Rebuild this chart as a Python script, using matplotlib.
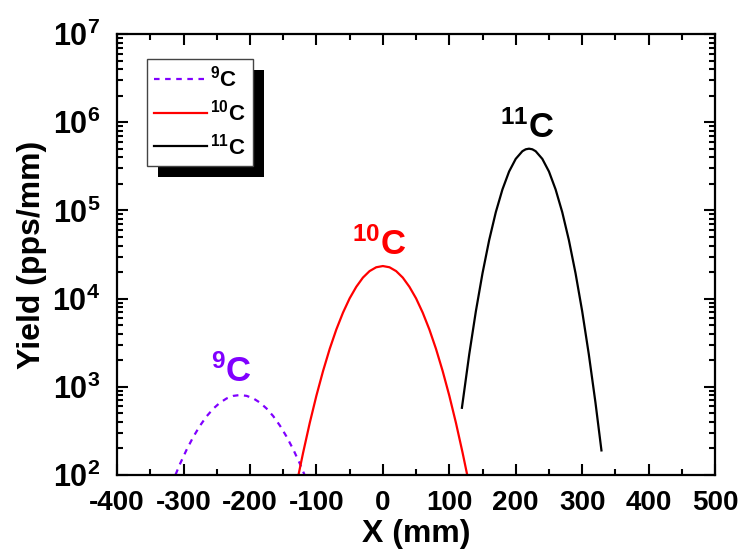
import numpy as np
import matplotlib
matplotlib.use("Agg")
import matplotlib.pyplot as plt
from matplotlib.patches import Rectangle
from matplotlib.ticker import MultipleLocator, LogLocator, NullFormatter

plt.rcParams['font.family'] = ['Liberation Sans', 'DejaVu Sans']
plt.rcParams['font.weight'] = 'bold'
plt.rcParams['axes.unicode_minus'] = False
plt.rcParams['mathtext.fontset'] = 'custom'
plt.rcParams['mathtext.rm'] = 'Liberation Sans:bold'
plt.rcParams['mathtext.it'] = 'Liberation Sans:bold'
plt.rcParams['mathtext.bf'] = 'Liberation Sans:bold'
plt.rcParams['mathtext.default'] = 'rm'

# values (X in mm, yield in pps/mm)
x_c9 = [-312, -305, -295, -285, -275, -265, -255, -245, -235, -225, -215,
        -205, -195, -185, -175, -165, -155, -145, -135, -125, -118]
y_c9 = [101, 135, 196, 273, 364, 465, 567, 662, 739, 789, 807,
        789, 739, 662, 567, 465, 364, 273, 196, 135, 101]

x_c10 = [-127, -120, -110, -100, -90, -80, -70, -60, -50, -40, -30, -20, -10, 0,
         10, 20, 30, 40, 50, 60, 70, 80, 90, 100, 110, 120, 127]
y_c10 = [100, 179, 390, 794, 1510, 2690, 4470, 6930, 10060, 13600, 17300, 20500, 22660, 23400,
         22660, 20500, 17300, 13600, 10060, 6930, 4470, 2690, 1510, 794, 390, 179, 100]

x_c11 = [119, 130, 140, 150, 160, 170, 180, 190, 200, 210, 215, 220,
         225, 230, 240, 250, 260, 270, 280, 290, 300, 310, 320, 329]
y_c11 = [578, 2330, 7190, 19400, 46000, 95500, 173000, 276000, 384000, 469000, 493000, 501000,
         493000, 469000, 384000, 276000, 173000, 95500, 46000, 19400, 7190, 2330, 661, 190]

labels = [r'$^{9}$C', r'$^{10}$C', r'$^{11}$C']
colors = ['#8000ff', '#ff0000', '#000000']

# where the isotope names sit above each peak
tag_x = [-228, -6, 217]
tag_y = [1130, 31200, 662000]

fig = plt.figure(figsize=(7.41, 5.54), dpi=100)
ax = fig.add_axes([0.158, 0.1426, 0.807, 0.796])

ax.plot(x_c9, y_c9, color=colors[0], lw=1.6, ls=(0, (2.5, 2.5)), label=labels[0])
ax.plot(x_c10, y_c10, color=colors[1], lw=1.6, label=labels[1])
ax.plot(x_c11, y_c11, color=colors[2], lw=1.6, label=labels[2])

ax.set_yscale('log')
ax.set_xlim(-400, 500)
ax.set_ylim(1e2, 1e7)

ax.xaxis.set_major_locator(MultipleLocator(100))
ax.xaxis.set_minor_locator(MultipleLocator(50))
ax.yaxis.set_major_locator(LogLocator(base=10, numticks=10))
ax.yaxis.set_minor_locator(LogLocator(base=10, subs=np.arange(2, 10), numticks=20))
ax.yaxis.set_minor_formatter(NullFormatter())

ax.tick_params(which='both', direction='in', top=True, right=True, width=1.5)
ax.tick_params(which='major', length=8)
ax.tick_params(axis='x', which='major', labelsize=20, pad=11)
ax.tick_params(axis='y', which='major', labelsize=22, pad=12)
ax.tick_params(which='minor', length=4.5)
for s in ax.spines.values():
    s.set_linewidth(1.6)
for t in ax.get_xticklabels() + ax.get_yticklabels():
    t.set_fontweight('bold')

ax.set_xlabel('X (mm)', fontsize=23, fontweight='bold', labelpad=2)
ax.set_ylabel('Yield (pps/mm)', fontsize=23, fontweight='bold', labelpad=4)

# peak annotations
for tx, ty, lab, c in zip(tag_x, tag_y, labels, colors):
    ax.text(tx, ty, lab, color=c, fontsize=25, ha='center', va='baseline')

leg = ax.legend(loc='upper left', bbox_to_anchor=(0.05, 0.943), borderaxespad=0,
                fontsize=16, fancybox=False, framealpha=1, edgecolor='#444444',
                handlelength=2.4, handletextpad=0.15, labelspacing=0.35,
                borderpad=0.3)
leg.get_frame().set_linewidth(1.0)
leg.set_zorder(6)

# black drop shadow behind the legend box
fig.canvas.draw()
bb = leg.get_frame().get_window_extent()
off = 11
shadow = Rectangle((bb.x0 + off, bb.y0 - off), bb.width, bb.height, transform=None,
                   facecolor='black', edgecolor='none', zorder=5)
ax.add_artist(shadow)

fig.savefig('out.png', dpi=100)
